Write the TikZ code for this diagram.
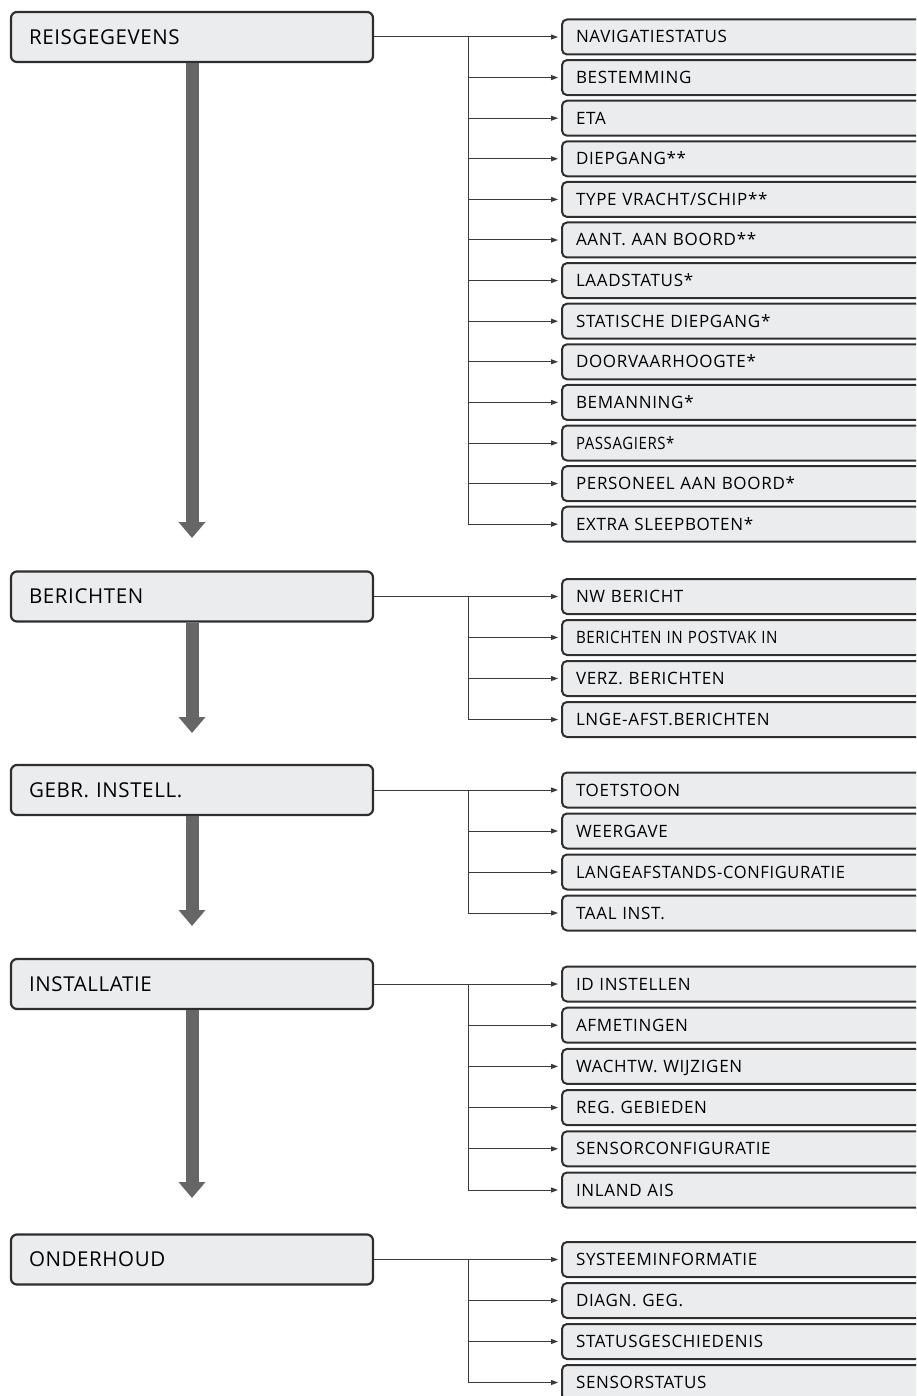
\documentclass[tikz,border=0pt]{standalone}
\usepackage{fontspec}
\usepackage{graphicx}
\setmainfont{Open Sans}
\newfontfamily\mainlbl[LetterSpace=3]{Open Sans}
\newfontfamily\itemlbl[LetterSpace=4]{Open Sans}
\usetikzlibrary{arrows.meta}
\definecolor{boxfill}{HTML}{EBECEE}
\definecolor{boxline}{HTML}{2E2E2E}
\definecolor{bargray}{HTML}{666666}
\definecolor{conngray}{HTML}{3A3A3A}
\begin{document}
\begin{tikzpicture}[x=1pt,y=-1pt,
  mainbox/.style={draw=boxline, line width=2.2pt, rounded corners=6pt, fill=boxfill,
    minimum height=50pt, text width=326pt, inner xsep=18pt, inner ysep=0pt, align=left,
    font=\mainlbl\fontsize{20.5}{24}\selectfont, text height=14.6pt, text depth=0pt},
  itembox/.style={draw=boxline, line width=2pt, rounded corners=5pt, fill=boxfill, anchor=west,
    minimum height=35pt, text width=372pt, inner xsep=14pt, inner ysep=0pt, align=left,
    font=\itemlbl\fontsize{17}{20}\selectfont, text height=12pt, text depth=0pt},
  conn/.style={draw=conngray, line width=1pt},
  connarrow/.style={conn, shorten >=3pt, -{Triangle[length=7pt,width=5pt]}},
  bigarrow/.style={draw=bargray, line width=13pt, -{Triangle[length=16pt,width=26pt]}}
]
\path[use as bounding box, clip] (0,0) rectangle (916,1396);

% main boxes
\node[mainbox] (m1) at (192,37) {REISGEGEVENS};
\node[mainbox] (m2) at (192,596.5) {BERICHTEN};
\node[mainbox] (m3) at (192,790) {GEBR. INSTELL.};
\node[mainbox] (m4) at (192,984) {INSTALLATIE};
\node[mainbox] (m5) at (192,1259.5) {ONDERHOUD};

% big arrows
\coordinate (tip1) at (192,538);
\coordinate (tip2) at (192,733);
\coordinate (tip3) at (192,926);
\coordinate (tip4) at (192,1198);
\draw[bigarrow] (m1.south) -- (tip1);
\draw[bigarrow] (m2.south) -- (tip2);
\draw[bigarrow] (m3.south) -- (tip3);
\draw[bigarrow] (m4.south) -- (tip4);

% group 1
\foreach \t [count=\i] in {NAVIGATIESTATUS, BESTEMMING, ETA, DIEPGANG**, TYPE VRACHT/SCHIP**,
  AANT. AAN BOORD**, LAADSTATUS*, STATISCHE DIEPGANG*, DOORVAARHOOGTE*, BEMANNING*,
  {\scalebox{0.88}[1]{PASSAGIERS*}}, PERSONEEL AAN BOORD*, EXTRA SLEEPBOTEN*}
  {\node[itembox] (a\i) at (561,{37+40.6*(\i-1)}) {\t};}
% group 2
\foreach \t [count=\i] in {NW BERICHT, {\scalebox{0.89}[1]{BERICHTEN IN POSTVAK IN}}, VERZ. BERICHTEN, LNGE-AFST.BERICHTEN}
  {\node[itembox] (b\i) at (561,{596.5+41*(\i-1)}) {\t};}
% group 3
\foreach \t [count=\i] in {TOETSTOON, WEERGAVE, {\scalebox{0.97}[1]{LANGEAFSTANDS-CONFIGURATIE}}, TAAL INST.}
  {\node[itembox] (c\i) at (561,{790+41*(\i-1)}) {\t};}
% group 4
\foreach \t [count=\i] in {ID INSTELLEN, AFMETINGEN, WACHTW. WIJZIGEN, REG. GEBIEDEN, SENSORCONFIGURATIE, INLAND AIS}
  {\node[itembox] (d\i) at (561,{984+41.2*(\i-1)}) {\t};}
% group 5
\foreach \t [count=\i] in {SYSTEEMINFORMATIE, DIAGN. GEG., STATUSGESCHIEDENIS, SENSORSTATUS}
  {\node[itembox] (e\i) at (561,{1259.5+41*(\i-1)}) {\t};}

% trunks
\coordinate (t1) at (468,37);
\coordinate (t2) at (468,596.5);
\coordinate (t3) at (468,790);
\coordinate (t4) at (468,984);
\coordinate (t5) at (468,1259.5);

\draw[connarrow] (m1.east) -- (a1.west);
\draw[conn] (t1) -- (t1 |- a13.west);
\foreach \i in {2,...,13} \draw[connarrow] (t1 |- a\i.west) -- (a\i.west);

\draw[connarrow] (m2.east) -- (b1.west);
\draw[conn] (t2) -- (t2 |- b4.west);
\foreach \i in {2,...,4} \draw[connarrow] (t2 |- b\i.west) -- (b\i.west);

\draw[connarrow] (m3.east) -- (c1.west);
\draw[conn] (t3) -- (t3 |- c4.west);
\foreach \i in {2,...,4} \draw[connarrow] (t3 |- c\i.west) -- (c\i.west);

\draw[connarrow] (m4.east) -- (d1.west);
\draw[conn] (t4) -- (t4 |- d6.west);
\foreach \i in {2,...,6} \draw[connarrow] (t4 |- d\i.west) -- (d\i.west);

\draw[connarrow] (m5.east) -- (e1.west);
\draw[conn] (t5) -- (t5 |- e4.west);
\foreach \i in {2,...,4} \draw[connarrow] (t5 |- e\i.west) -- (e\i.west);
\end{tikzpicture}
\end{document}
